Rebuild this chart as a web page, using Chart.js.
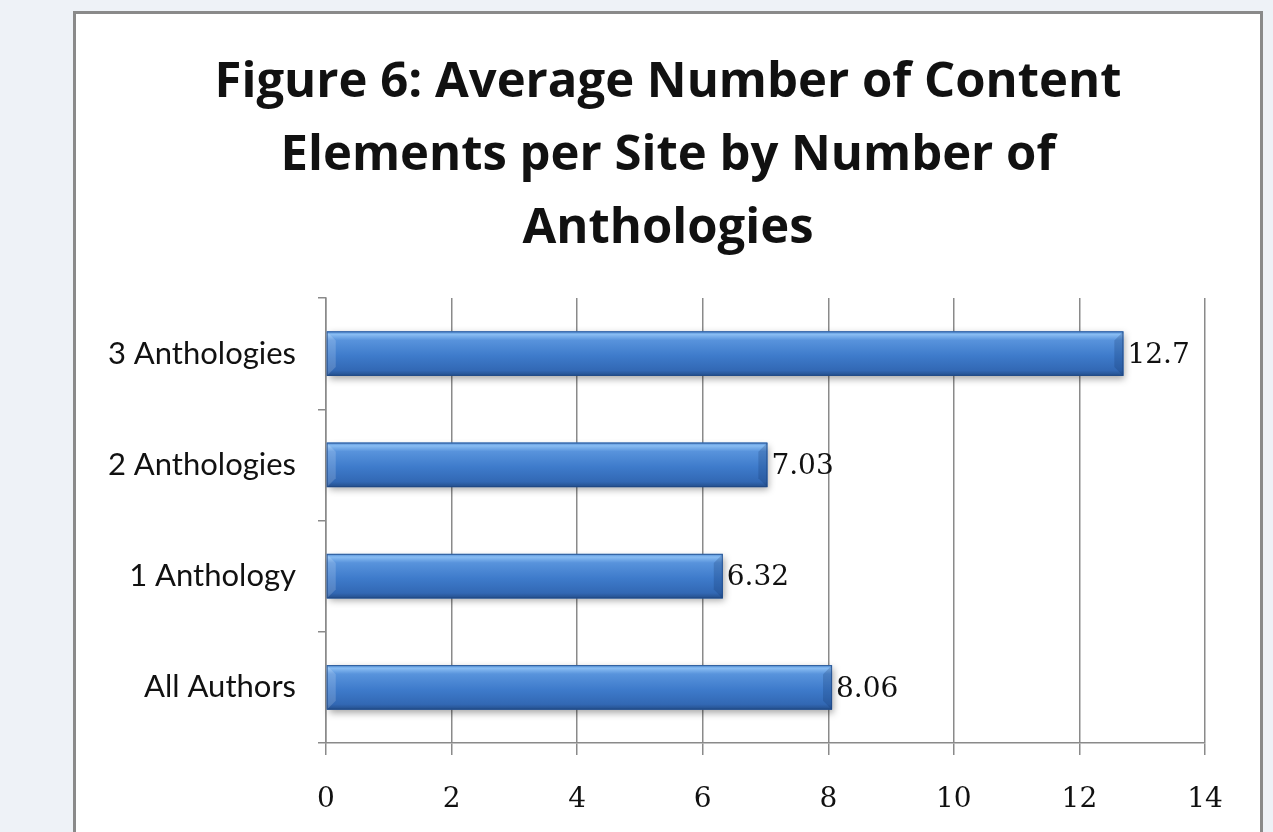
<!DOCTYPE html>
<html>
<head>
<meta charset="utf-8">
<title>Content Elements by Anthologies</title>
<script src="https://cdn.jsdelivr.net/npm/chart.js@4.4.1/dist/chart.umd.min.js"></script>
<style>
    html, body {
        margin: 0;
        padding: 0;
        width: 1273px;
        height: 832px;
        overflow: hidden;
        background: #eef2f7;
    }
    .frame {
        position: absolute;
        left: 73px;
        top: 11px;
        width: 1184px;
        height: 900px;
        background: #fff;
        border: 3px solid #8a8a8a;
    }
    #wrap {
        position: absolute;
        left: 76px;
        top: 0;
        width: 1184px;
        height: 832px;
    }
    .chart-title {
        position: absolute;
        left: 76px;
        top: 42px;
        width: 1184px;
        margin: 0;
        text-align: center;
        font-family: "Open Sans", sans-serif;
        font-weight: bold;
        font-size: 49px;
        line-height: 73px;
        color: #111;
    }
</style>
</head>
<body>
<div class="frame"></div>
<h1 class="chart-title" id="chartTitle"></h1>
<div id="wrap"><canvas id="anthChart"></canvas></div>

<script>
const titleLines = [
    "Figure 6: Average Number of Content",
    "Elements per Site by Number of",
    "Anthologies"
];
const groups = ["3 Anthologies", "2 Anthologies", "1 Anthology", "All Authors"];
const avgElements = [12.7, 7.03, 6.32, 8.06];
const axisMax = 14;
const axisStep = 2;

const gridGray = "#8a8a8a";
const numberFont = "'DejaVu Serif'";

document.getElementById("chartTitle").innerHTML = titleLines.join("<br>");

// paints each bar as a bevelled 3d bar and writes its value on the right
const bevelBars = {
    id: "bevelBars",
    afterDatasetsDraw(chart) {
        const ctx = chart.ctx;
        const meta = chart.getDatasetMeta(0);
        meta.data.forEach((bar, i) => {
            const { x, y, base, height } = bar.getProps(["x", "y", "base", "height"], true);
            const top = y - height / 2;
            const left = Math.min(base, x);
            const w = Math.abs(x - base);

            ctx.save();
            // soft drop shadow
            ctx.shadowColor = "rgba(0,0,0,0.35)";
            ctx.shadowBlur = 7;
            ctx.shadowOffsetX = 2;
            ctx.shadowOffsetY = 3;
            ctx.fillStyle = "#3a76c4";
            ctx.fillRect(left, top, w, height);
            ctx.restore();

            ctx.save();
            const g = ctx.createLinearGradient(0, top, 0, top + height);
            g.addColorStop(0, "#4f8cd6");
            g.addColorStop(0.07, "#88bcf2");
            g.addColorStop(0.2, "#5893dc");
            g.addColorStop(0.55, "#3e7bcb");
            g.addColorStop(0.88, "#3268b4");
            g.addColorStop(1, "#244e8a");
            ctx.fillStyle = g;
            ctx.fillRect(left, top, w, height);

            // left end cap
            const cap = 9;
            ctx.fillStyle = "rgba(255,255,255,0.16)";
            ctx.beginPath();
            ctx.moveTo(left, top);
            ctx.lineTo(left + cap, top + cap);
            ctx.lineTo(left + cap, top + height - cap);
            ctx.lineTo(left, top + height);
            ctx.closePath();
            ctx.fill();

            // right end cap
            ctx.fillStyle = "rgba(20,50,100,0.22)";
            ctx.beginPath();
            ctx.moveTo(left + w, top);
            ctx.lineTo(left + w - cap, top + cap);
            ctx.lineTo(left + w - cap, top + height - cap);
            ctx.lineTo(left + w, top + height);
            ctx.closePath();
            ctx.fill();

            ctx.strokeStyle = "rgba(30,70,130,0.7)";
            ctx.lineWidth = 1;
            ctx.strokeRect(left + 0.5, top + 0.5, w - 1, height - 1);
            ctx.restore();

            // value label
            ctx.save();
            ctx.font = "28px " + numberFont;
            ctx.fillStyle = "#111";
            ctx.textAlign = "left";
            ctx.textBaseline = "middle";
            ctx.fillText(String(avgElements[i]), x + 4, y + 2);
            ctx.restore();
        });
    }
};

new Chart(document.getElementById("anthChart"), {
    type: "bar",
    data: {
        labels: groups,
        datasets: [{
            data: avgElements,
            backgroundColor: "rgba(0,0,0,0)",
            barPercentage: 0.4,
            categoryPercentage: 1
        }]
    },
    options: {
        indexAxis: "y",
        responsive: true,
        maintainAspectRatio: false,
        animation: false,
        layout: {
            padding: { left: 0, right: 55, top: 298, bottom: 8 }
        },
        plugins: {
            legend: { display: false },
            tooltip: { enabled: false },
            title: { display: false }
        },
        scales: {
            x: {
                min: 0,
                max: axisMax,
                afterFit(scale) { scale.height = 81; },
                ticks: {
                    stepSize: axisStep,
                    color: "#111",
                    padding: 28,
                    font: { family: "DejaVu Serif", size: 28 }
                },
                grid: {
                    color: gridGray,
                    lineWidth: 1.5,
                    tickLength: 12
                },
                border: { color: gridGray, width: 1.5 }
            },
            y: {
                afterFit(scale) { scale.width = 250; },
                ticks: {
                    color: "#111",
                    padding: 22,
                    font: { family: "Lato", size: 31 }
                },
                grid: {
                    drawOnChartArea: false,
                    color: gridGray,
                    lineWidth: 1.5,
                    tickLength: 8
                },
                border: { color: gridGray, width: 1.5 }
            }
        }
    },
    plugins: [bevelBars]
});
</script>
</body>
</html>
